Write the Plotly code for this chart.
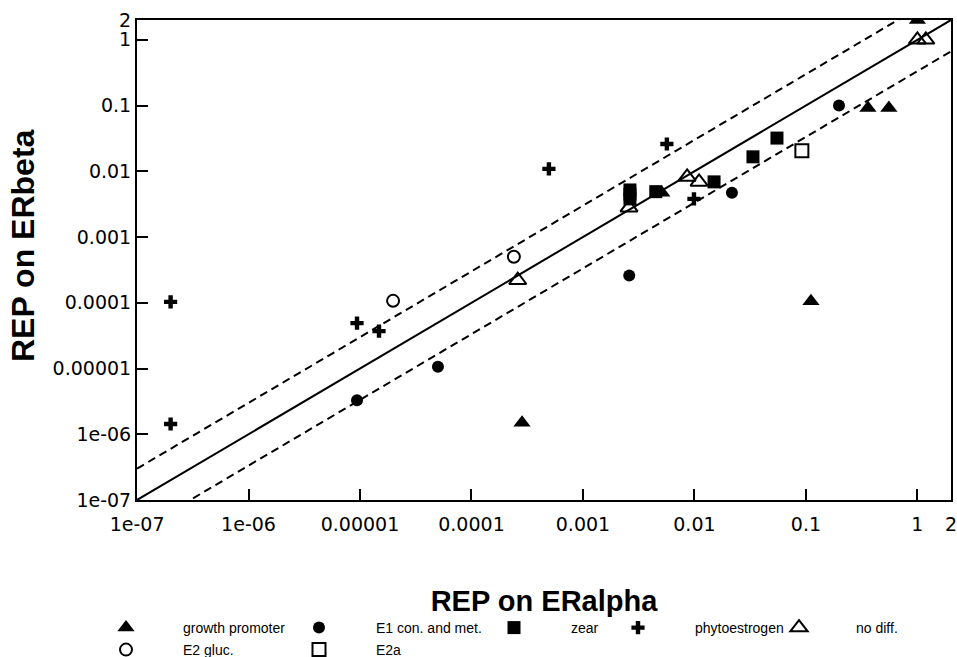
import math
import plotly.graph_objects as go

# ---- data ----
growth_x = [1.0, 0.36, 0.555, 0.111, 0.0051, 0.000284]
growth_y = [2.0, 0.092, 0.092, 0.000105, 0.0047, 1.49e-6]

e1_x = [0.198, 0.0217, 0.0026, 5.0e-5, 9.4e-6]
e1_y = [0.1, 0.0047, 0.00026, 1.06e-5, 3.3e-6]

zear_x = [0.00264, 0.00264, 0.00264, 0.0045, 0.015, 0.0335, 0.055]
zear_y = [0.0052, 0.0045, 0.0038, 0.0049, 0.0069, 0.0166, 0.032]

phyto_x = [2.0e-7, 2.0e-7, 9.4e-6, 1.48e-5, 0.000495, 0.00566, 0.0099]
phyto_y = [0.000103, 1.43e-6, 4.9e-5, 3.7e-5, 0.0109, 0.026, 0.0038]

nodiff_x = [1.0, 1.19, 0.00259, 0.0086, 0.011, 0.00026]
nodiff_y = [1.0, 1.0, 0.0028, 0.0082, 0.0069, 0.00022]

e2gluc_x = [0.00024, 1.98e-5]
e2gluc_y = [0.0005, 0.000107]

e2a_x = [0.092]
e2a_y = [0.0205]

line_x = [1e-7, 2.0]          # extent of the reference lines
fold = 3.0                    # dashed lines: y = 3x and y = x/3

tick_vals = [1e-7, 1e-6, 1e-5, 1e-4, 1e-3, 1e-2, 1e-1, 1, 2]
tick_text = ["1e-07", "1e-06", "0.00001", "0.0001", "0.001", "0.01", "0.1", "1", "2"]

series = [
    ("growth promoter", growth_x, growth_y, "triangle-up", 15),
    ("E1 con. and met.", e1_x, e1_y, "circle", 12),
    ("zear", zear_x, zear_y, "square", 13),
    ("phytoestrogen", phyto_x, phyto_y, "cross", 11),
    ("no diff.", nodiff_x, nodiff_y, "triangle-up-open", 15),
    ("E2 gluc.", e2gluc_x, e2gluc_y, "circle-open", 12),
    ("E2a", e2a_x, e2a_y, "square-open", 13),
]

FIG_W, FIG_H = 957, 657
PLOT_L, PLOT_R, PLOT_T, PLOT_B = 137, 951, 20, 500   # px
W_PX = float(PLOT_R - PLOT_L)
H_PX = float(PLOT_B - PLOT_T)
ITEMW = 104
legend_pos = [(126, 628), (319, 628), (514, 628), (638, 628), (799, 628),
              (126, 650), (319, 650)]

fig = go.Figure()

# reference lines
fig.add_trace(go.Scatter(x=line_x, y=line_x, mode="lines",
                         line=dict(color="black", width=2), showlegend=False,
                         hoverinfo="skip"))
fig.add_trace(go.Scatter(x=line_x, y=[v * fold for v in line_x], mode="lines",
                         line=dict(color="black", width=2, dash="8px,5px"),
                         showlegend=False, hoverinfo="skip"))
fig.add_trace(go.Scatter(x=line_x, y=[v / fold for v in line_x], mode="lines",
                         line=dict(color="black", width=2, dash="8px,5px"),
                         showlegend=False, hoverinfo="skip"))

layout_legends = {}
for i, (name, xs, ys, sym, sz) in enumerate(series):
    lname = "legend" if i == 0 else f"legend{i + 1}"
    fig.add_trace(go.Scatter(
        x=xs, y=ys, mode="markers", name=name, legend=lname,
        marker=dict(symbol=sym, size=sz, color="black",
                    line=dict(color="black", width=2 if "open" in sym else 0)),
    ))
    cx, cy = legend_pos[i]
    left_px = cx - (ITEMW + 10) / 2.0
    layout_legends[lname] = dict(
        x=(left_px - PLOT_L) / W_PX, xanchor="left",
        y=(PLOT_B - cy) / H_PX, yanchor="middle",
        orientation="v", itemwidth=ITEMW, borderwidth=0,
        bgcolor="rgba(0,0,0,0)",
        font=dict(family="Liberation Sans Narrow, Arial Narrow, Liberation Sans, Arial",
                  size=14, color="black"),
    )

axis_common = dict(
    type="log", tickvals=tick_vals, ticktext=tick_text,
    ticks="inside", ticklen=11, tickwidth=2, tickcolor="black",
    showline=True, linewidth=2, linecolor="black", mirror=True,
    showgrid=False, zeroline=False, automargin=False,
    ticklabeloverflow="allow",
    tickfont=dict(family="DejaVu Sans, Liberation Sans, Arial", size=19, color="black"),
    range=[-7.0005, math.log10(2) + 0.0005],
)

fig.update_xaxes(**axis_common, ticklabelstandoff=6)
fig.update_yaxes(**axis_common)
fig.update_xaxes(title=dict(text="<b>REP on ERalpha</b>", standoff=57,
                            font=dict(family="Liberation Sans, Arial", size=29, color="black")))

# y-axis title placed as a rotated annotation (it sits a little above centre)
fig.add_annotation(
    text="<b>REP on ERbeta</b>", textangle=-90, showarrow=False,
    xref="paper", yref="paper",
    x=(23 - PLOT_L) / W_PX, y=(PLOT_B - 246) / H_PX,
    xanchor="center", yanchor="middle",
    font=dict(family="Liberation Sans, Arial", size=32, color="black"),
)

fig.update_layout(
    width=FIG_W, height=FIG_H,
    margin=dict(l=PLOT_L, r=FIG_W - PLOT_R, t=PLOT_T, b=FIG_H - PLOT_B,
                autoexpand=False),
    paper_bgcolor="white", plot_bgcolor="white",
    showlegend=True,
    **layout_legends,
)

fig.write_html("out.html",
               config={"displayModeBar": False},
               post_script="document.body.style.margin='0';document.body.style.overflow='hidden';")
